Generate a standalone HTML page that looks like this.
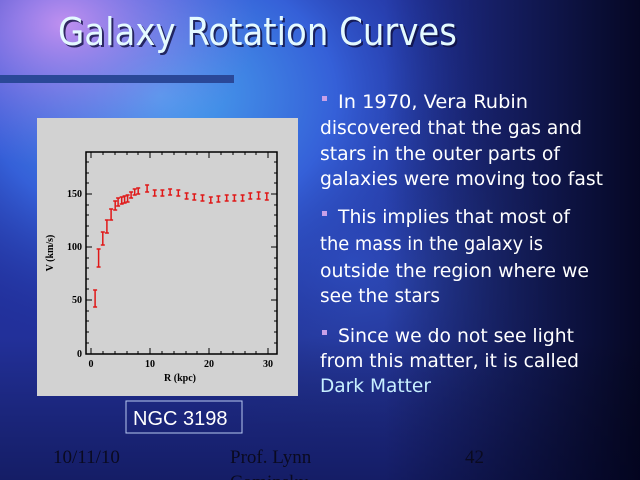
<!DOCTYPE html>
<html><head><meta charset="utf-8"><style>
html,body{margin:0;padding:0;width:640px;height:480px;overflow:hidden;background:#0a0a30}
</style></head><body>
<svg width="640" height="480" xmlns="http://www.w3.org/2000/svg" font-family="DejaVu Sans, sans-serif">
<defs>
<radialGradient id="g1" cx="0.25" cy="0.2" r="0.55">
<stop offset="0" stop-color="#4aa8f0"/><stop offset="0.5" stop-color="#3560d8"/><stop offset="1" stop-color="#2030a0" stop-opacity="0"/></radialGradient>
<radialGradient id="g2" cx="0.1" cy="0.05" r="0.3">
<stop offset="0" stop-color="#c090f0"/><stop offset="1" stop-color="#8060e0" stop-opacity="0"/></radialGradient>
<radialGradient id="g3" cx="0.55" cy="0.55" r="0.4">
<stop offset="0" stop-color="#3050c0"/><stop offset="1" stop-color="#203080" stop-opacity="0"/></radialGradient>
<linearGradient id="gr" x1="0" y1="0" x2="1" y2="0">
<stop offset="0.6" stop-color="#000" stop-opacity="0"/><stop offset="1" stop-color="#000010" stop-opacity="0.85"/></linearGradient>
<linearGradient id="gb" x1="0" y1="0" x2="0" y2="1">
<stop offset="0.7" stop-color="#000" stop-opacity="0"/><stop offset="1" stop-color="#000018" stop-opacity="0.4"/></linearGradient>
</defs>
<rect width="640" height="480" fill="#22309a"/>
<rect width="640" height="480" fill="url(#g3)"/>
<rect width="640" height="480" fill="url(#g1)"/>
<rect width="640" height="480" fill="url(#g2)"/>
<rect width="640" height="480" fill="url(#gr)"/>
<rect width="640" height="480" fill="url(#gb)"/>
<text x="60" y="47" font-size="38" fill="#101040" textLength="399" lengthAdjust="spacingAndGlyphs" opacity="0.8">Galaxy Rotation Curves</text>
<text x="58" y="45" font-size="38" fill="#e4faff" textLength="399" lengthAdjust="spacingAndGlyphs">Galaxy Rotation Curves</text>
<rect x="0" y="75" width="234" height="8" fill="#2a4898"/>
<g font-size="19" fill="#fff" lengthAdjust="spacingAndGlyphs">
<rect x="322" y="96" width="5" height="5" fill="#c8a0e8"/>
<rect x="322" y="211" width="5" height="5" fill="#c8a0e8"/>
<rect x="322" y="330" width="5" height="5" fill="#c8a0e8"/>
<text x="338" y="108" textLength="190" lengthAdjust="spacingAndGlyphs">In 1970, Vera Rubin</text>
<text x="320" y="134" textLength="262" lengthAdjust="spacingAndGlyphs">discovered that the gas and</text>
<text x="320" y="160" textLength="240" lengthAdjust="spacingAndGlyphs">stars in the outer parts of</text>
<text x="320" y="185" textLength="283" lengthAdjust="spacingAndGlyphs">galaxies were moving too fast</text>
<text x="338" y="223" textLength="232" lengthAdjust="spacingAndGlyphs">This implies that most of</text>
<text x="320" y="250" textLength="223" lengthAdjust="spacingAndGlyphs">the mass in the galaxy is</text>
<text x="320" y="277" textLength="269" lengthAdjust="spacingAndGlyphs">outside the region where we</text>
<text x="320" y="302" textLength="120" lengthAdjust="spacingAndGlyphs">see the stars</text>
<text x="338" y="342" textLength="236" lengthAdjust="spacingAndGlyphs">Since we do not see light</text>
<text x="320" y="367" textLength="259" lengthAdjust="spacingAndGlyphs">from this matter, it is called</text>
<text x="320" y="392" textLength="111" lengthAdjust="spacingAndGlyphs" fill="#c8f0ff">Dark Matter</text>
</g>
<rect x="37" y="118" width="261" height="278" fill="#d2d2d2"/>
<g stroke="#000" stroke-width="1.5" fill="none">
<rect x="86" y="152" width="191" height="202"/>
</g>
<g stroke="#000" stroke-width="1">
<path d="M91,354v-6M150,354v-6M209,354v-6M268,354v-6M91,152v6M150,152v6M209,152v6M268,152v6
M86,300h6M86,247h6M86,194h6M277,300h-6M277,247h-6M277,194h-6
M103,354v-3M115,354v-3M127,354v-3M138,354v-3M162,354v-3M174,354v-3M186,354v-3M197,354v-3M221,354v-3M233,354v-3M245,354v-3M256,354v-3
M103,152v3M115,152v3M127,152v3M138,152v3M162,152v3M174,152v3M186,152v3M197,152v3M221,152v3M233,152v3M245,152v3M256,152v3
M86,343h3M86,332h3M86,321h3M86,311h3M86,289h3M86,279h3M86,268h3M86,258h3M86,236h3M86,226h3M86,215h3M86,205h3M86,183h3M86,173h3M86,162h3
M277,343h-3M277,332h-3M277,321h-3M277,311h-3M277,289h-3M277,279h-3M277,268h-3M277,258h-3M277,236h-3M277,226h-3M277,215h-3M277,205h-3M277,183h-3M277,173h-3M277,162h-3"/>
</g>
<g font-family="Liberation Serif, serif" font-weight="bold" font-size="10" fill="#000">
<text x="82" y="357" text-anchor="end">0</text>
<text x="82" y="303" text-anchor="end">50</text>
<text x="82" y="250" text-anchor="end">100</text>
<text x="82" y="197" text-anchor="end">150</text>
<text x="91" y="367" text-anchor="middle">0</text>
<text x="150" y="367" text-anchor="middle">10</text>
<text x="209" y="367" text-anchor="middle">20</text>
<text x="268" y="367" text-anchor="middle">30</text>
<text x="180" y="381" text-anchor="middle">R (kpc)</text>
<text transform="translate(53,253) rotate(-90)" text-anchor="middle">V (km/s)</text>
</g>
<rect x="126" y="401" width="116" height="32" fill="none" stroke="#b8c8f0" stroke-width="1"/>
<text x="133" y="425" font-family="Liberation Sans, sans-serif" font-size="20" fill="#fff">NGC 3198</text>
<g font-family="Liberation Serif, serif" font-size="19" fill="#0a0a20">
<text x="53" y="463">10/11/10</text>
<text x="230" y="463">Prof. Lynn</text>
<text x="230" y="488">Cominsky</text>
<text x="465" y="463">42</text>
</g>
<g stroke="#e01818" stroke-width="1.5">
<path d="M93.1,290h4M93.1,307h4M95.1,290v17
M96.6,249h4M96.6,267h4M98.6,249v18
M100.8,232h4M100.8,245h4M102.8,232v13
M104.9,220h4M104.9,233h4M106.9,220v13
M109.1,209h4M109.1,220h4M111.1,209v11
M113.2,201h4M113.2,210h4M115.2,201v9
M116.1,198h4M116.1,206h4M118.1,198v8
M119.7,197h4M119.7,204h4M121.7,197v7
M122.6,196h4M122.6,203h4M124.6,196v7
M125.6,195h4M125.6,202h4M127.6,195v7
M129.1,192h4M129.1,198h4M131.1,192v6
M132.7,189h4M132.7,195h4M134.7,189v6
M136.2,188h4M136.2,194h4M138.2,188v6
M145.1,185h4M145.1,192h4M147.1,185v7
M152.7,190h4M152.7,196h4M154.7,190v6
M160.4,190h4M160.4,196h4M162.4,190v6
M168.1,189h4M168.1,195h4M170.1,189v6
M176.3,190h4M176.3,196h4M178.3,190v6
M184.6,193h4M184.6,199h4M186.6,193v6
M192.3,194h4M192.3,200h4M194.3,194v6
M200.5,195h4M200.5,201h4M202.5,195v6
M208.8,197h4M208.8,203h4M210.8,197v6
M216.4,196h4M216.4,202h4M218.4,196v6
M224.7,195h4M224.7,201h4M226.7,195v6
M232.4,195h4M232.4,201h4M234.4,195v6
M240.6,195h4M240.6,201h4M242.6,195v6
M248.3,193h4M248.3,199h4M250.3,193v6
M256.6,192h4M256.6,199h4M258.6,192v7
M264.8,193h4M264.8,200h4M266.8,193v7"/>
</g>
</svg>
</body></html>
